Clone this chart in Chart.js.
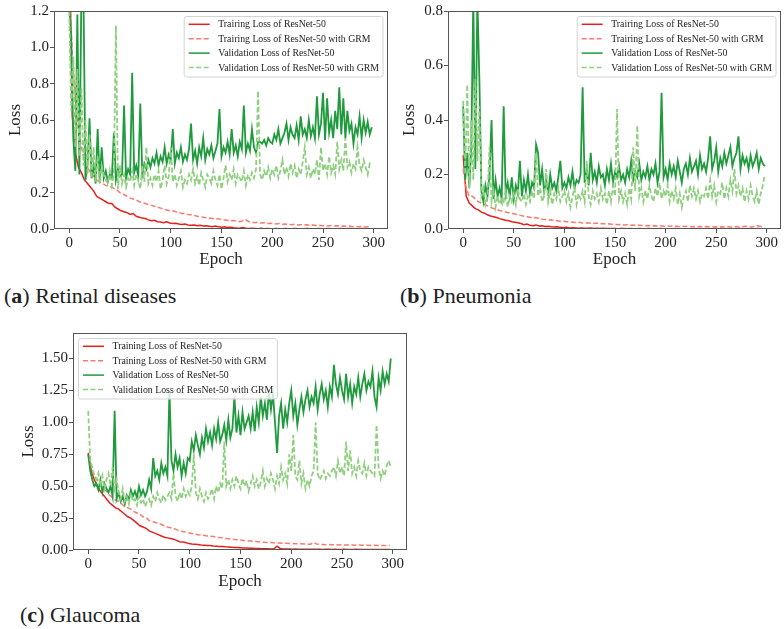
<!DOCTYPE html>
<html><head><meta charset="utf-8">
<script src="https://cdn.jsdelivr.net/npm/chart.js@4.4.1/dist/chart.umd.min.js"></script>
<style>
html,body{margin:0;padding:0;background:#fff;}
#wrap{position:relative;width:784px;height:629px;overflow:hidden;background:#fff;}
canvas{position:absolute;}
.cap{position:absolute;font-family:'Liberation Serif','DejaVu Serif',serif;font-size:22px;line-height:24px;color:#222;white-space:nowrap;}
</style></head><body>
<div id="wrap">
<canvas id="ca" width="392" height="275" style="left:0;top:0;width:392px;height:275px"></canvas>
<canvas id="cb" width="392" height="275" style="left:392px;top:0;width:392px;height:275px"></canvas>
<canvas id="cc" width="420" height="275" style="left:0;top:320px;width:420px;height:275px"></canvas>
<div class="cap" style="left:4px;top:284px">(<b>a</b>) Retinal diseases</div>
<div class="cap" style="left:400px;top:284px">(<b>b</b>) Pneumonia</div>
<div class="cap" style="left:20px;top:603px">(<b>c</b>) Glaucoma</div>
</div>
<script>
const epochsTrain = Array.from({length:100},(_,i)=>i*3);
const epochsVal = Array.from({length:150},(_,i)=>i*2);
const xTicks = [0,50,100,150,200,250,300];
const xTickLabels = ['0','50','100','150','200','250','300'];
const yTicksA = [0,0.2,0.4,0.6,0.8,1.0,1.2];
const yTickLabelsA = ['0.0','0.2','0.4','0.6','0.8','1.0','1.2'];
const yTicksB = [0,0.2,0.4,0.6,0.8];
const yTickLabelsB = ['0.0','0.2','0.4','0.6','0.8'];
const yTicksC = [0,0.25,0.5,0.75,1.0,1.25,1.5];
const yTickLabelsC = ['0.00','0.25','0.50','0.75','1.00','1.25','1.50'];
const seriesLabelsAB = ['Trairing Loss of ResNet-50','Trairing Loss of ResNet-50 with GRM','Validation Loss of ResNet-50','Validation Loss of ResNet-50 with GRM'];
const seriesLabelsC = ['Training Loss of ResNet-50','Training Loss of ResNet-50 with GRM','Validation Loss of ResNet-50','Validation Loss of ResNet-50 with GRM'];

// ---- (a) Retinal diseases ----
const trainA = [1.60,0.62,0.42,0.34,0.31,0.27,0.25,0.23,0.21,0.18,
0.17,0.16,0.15,0.14,0.14,0.12,0.11,0.10,0.095,0.09,
0.08,0.085,0.07,0.065,0.06,0.058,0.05,0.045,0.048,0.04,
0.038,0.035,0.04,0.033,0.03,0.032,0.028,0.025,0.027,0.022,
0.02,0.022,0.018,0.02,0.016,0.018,0.015,0.012,0.016,0.012,
0.01,0.012,0.008,0.01,0.007,0.005,0.004,0.008,0.004,0.003,
0.004,0.003,0.002,0.004,0.002,0.003,0.002,0.002,0.003,0.002,
0.002,0.003,0.002,0.002,0.003,0.002,0.002,0.002,0.003,0.002,
0.002,0.002,0.003,0.002,0.002,0.003,0.002,0.002,0.002,0.003,
0.002,0.002,0.003,0.002,0.002,0.002,0.003,0.002,0.002,0.002];
const trainGrmA = [1.40,0.95,0.72,0.55,0.45,0.38,0.34,0.31,0.29,0.27,
0.26,0.25,0.24,0.235,0.23,0.22,0.21,0.195,0.19,0.18,
0.17,0.165,0.16,0.15,0.145,0.14,0.135,0.13,0.125,0.12,
0.115,0.11,0.105,0.10,0.10,0.095,0.09,0.085,0.085,0.08,
0.078,0.075,0.07,0.068,0.065,0.062,0.06,0.058,0.055,0.057,
0.052,0.05,0.048,0.045,0.047,0.042,0.04,0.045,0.05,0.04,
0.038,0.035,0.037,0.033,0.035,0.03,0.032,0.03,0.028,0.03,
0.026,0.028,0.025,0.024,0.026,0.022,0.024,0.021,0.023,0.02,
0.022,0.019,0.021,0.018,0.02,0.017,0.019,0.016,0.018,0.015,
0.017,0.014,0.016,0.013,0.015,0.012,0.014,0.011,0.013,0.01];
const valA = [1.25,1.05,0.50,0.32,1.18,0.30,1.30,1.30,0.27,0.35,
0.61,0.28,0.35,0.25,0.55,0.27,0.45,0.28,0.32,0.26,
0.30,0.28,0.53,0.27,0.33,0.29,0.30,0.68,0.28,0.33,
0.30,0.86,0.31,0.35,0.29,0.69,0.30,0.36,0.33,0.38,
0.34,0.39,0.36,0.42,0.35,0.40,0.37,0.45,0.36,0.41,
0.38,0.55,0.36,0.42,0.39,0.45,0.37,0.41,0.38,0.44,
0.58,0.38,0.43,0.36,0.45,0.40,0.50,0.38,0.44,0.41,
0.46,0.39,0.43,0.47,0.66,0.40,0.45,0.42,0.48,0.41,
0.55,0.42,0.46,0.40,0.48,0.44,0.68,0.42,0.47,0.43,
0.55,0.45,0.42,0.48,0.48,0.47,0.49,0.46,0.50,0.48,
0.47,0.52,0.49,0.55,0.47,0.50,0.53,0.58,0.49,0.56,
0.52,0.50,0.57,0.49,0.62,0.52,0.55,0.50,0.60,0.51,
0.56,0.50,0.73,0.52,0.58,0.75,0.49,0.72,0.53,0.60,
0.50,0.65,0.55,0.78,0.52,0.72,0.50,0.65,0.54,0.58,
0.47,0.56,0.52,0.62,0.50,0.60,0.53,0.59,0.52,0.56];
const valGrmA = [1.20,0.65,0.95,0.45,0.88,0.40,0.78,0.35,0.60,0.30,
0.52,0.28,0.45,0.26,0.40,0.25,0.35,0.30,0.27,0.25,
0.32,0.24,0.30,1.12,0.22,0.35,0.25,0.30,0.23,0.28,
0.26,0.32,0.24,0.30,0.27,0.22,0.35,0.26,0.45,0.25,
0.28,0.24,0.30,0.26,0.32,0.22,0.27,0.35,0.25,0.29,
0.45,0.26,0.30,0.24,0.28,0.32,0.23,0.27,0.25,0.30,
0.27,0.33,0.25,0.29,0.24,0.31,0.27,0.23,0.30,0.28,
0.25,0.32,0.27,0.24,0.30,0.22,0.28,0.35,0.26,0.30,
0.27,0.33,0.25,0.30,0.28,0.26,0.32,0.24,0.30,0.27,
0.31,0.28,0.33,0.76,0.30,0.27,0.32,0.29,0.34,0.28,
0.33,0.30,0.35,0.28,0.32,0.38,0.30,0.34,0.29,0.36,
0.31,0.35,0.28,0.33,0.30,0.37,0.45,0.30,0.34,0.28,
0.33,0.30,0.38,0.27,0.45,0.32,0.36,0.30,0.40,0.31,
0.35,0.30,0.48,0.33,0.38,0.32,0.50,0.34,0.37,0.31,
0.36,0.33,0.45,0.35,0.32,0.38,0.34,0.30,0.36,0.35];

// ---- (b) Pneumonia ----
const trainB = [0.27,0.12,0.095,0.085,0.075,0.07,0.062,0.058,0.052,0.048,
0.045,0.042,0.038,0.035,0.032,0.03,0.027,0.025,0.023,0.02,
0.016,0.018,0.014,0.012,0.015,0.011,0.012,0.009,0.01,0.008,
0.007,0.008,0.006,0.005,0.006,0.004,0.005,0.004,0.003,0.004,
0.003,0.003,0.004,0.002,0.003,0.002,0.003,0.002,0.002,0.002,
0.002,0.001,0.002,0.002,0.001,0.002,0.001,0.001,0.002,0.001,
0.001,0.002,0.001,0.001,0.001,0.002,0.001,0.001,0.001,0.001,
0.002,0.001,0.001,0.001,0.001,0.001,0.002,0.001,0.001,0.001,
0.001,0.001,0.001,0.002,0.001,0.001,0.001,0.001,0.001,0.001,
0.001,0.002,0.001,0.001,0.001,0.001,0.001,0.002,0.001,0.001];
const trainGrmB = [0.22,0.15,0.12,0.12,0.11,0.10,0.095,0.09,0.085,0.08,
0.075,0.072,0.068,0.065,0.062,0.06,0.057,0.055,0.052,0.05,
0.047,0.045,0.043,0.04,0.042,0.038,0.036,0.035,0.033,0.034,
0.031,0.03,0.028,0.029,0.027,0.026,0.025,0.024,0.025,0.023,
0.022,0.023,0.021,0.02,0.022,0.019,0.02,0.018,0.019,0.017,
0.018,0.016,0.017,0.015,0.016,0.014,0.015,0.013,0.014,0.013,
0.012,0.013,0.011,0.012,0.011,0.012,0.01,0.011,0.01,0.011,
0.01,0.009,0.01,0.009,0.01,0.008,0.009,0.008,0.009,0.008,
0.009,0.008,0.007,0.008,0.007,0.008,0.007,0.008,0.007,0.008,
0.009,0.007,0.008,0.01,0.008,0.007,0.009,0.012,0.009,0.008];
const valB = [0.45,0.18,0.28,0.15,0.30,0.85,0.22,0.85,0.55,0.14,
0.10,0.16,0.12,0.20,0.40,0.11,0.18,0.12,0.15,0.11,
0.45,0.13,0.17,0.12,0.19,0.11,0.16,0.13,0.25,0.12,
0.18,0.14,0.20,0.13,0.17,0.15,0.31,0.28,0.16,0.22,
0.14,0.18,0.13,0.20,0.15,0.17,0.14,0.19,0.25,0.15,
0.17,0.15,0.19,0.16,0.21,0.15,0.18,0.17,0.20,0.52,
0.17,0.22,0.16,0.28,0.18,0.21,0.17,0.23,0.19,0.20,
0.16,0.22,0.18,0.24,0.17,0.21,0.19,0.23,0.18,0.20,
0.17,0.22,0.19,0.25,0.18,0.21,0.19,0.24,0.18,0.21,
0.19,0.23,0.18,0.22,0.20,0.24,0.17,0.21,0.50,0.19,
0.22,0.18,0.24,0.20,0.23,0.19,0.25,0.21,0.17,0.22,
0.24,0.20,0.26,0.21,0.23,0.25,0.20,0.27,0.22,0.24,
0.21,0.26,0.34,0.22,0.25,0.30,0.21,0.26,0.23,0.28,
0.24,0.27,0.30,0.23,0.26,0.28,0.34,0.22,0.27,0.24,
0.26,0.22,0.27,0.23,0.25,0.28,0.22,0.26,0.24,0.23];
const valGrmB = [0.47,0.20,0.53,0.15,0.40,0.18,0.55,0.25,0.45,0.12,
0.15,0.09,0.12,0.30,0.10,0.14,0.08,0.12,0.09,0.11,
0.10,0.14,0.08,0.12,0.10,0.13,0.09,0.15,0.11,0.10,
0.13,0.09,0.12,0.10,0.14,0.11,0.28,0.12,0.15,0.10,
0.12,0.22,0.10,0.14,0.09,0.13,0.11,0.15,0.10,0.12,
0.14,0.10,0.13,0.08,0.12,0.15,0.09,0.13,0.11,0.14,
0.10,0.25,0.12,0.09,0.14,0.11,0.13,0.10,0.15,0.11,
0.13,0.09,0.14,0.10,0.16,0.12,0.44,0.11,0.14,0.10,
0.13,0.09,0.15,0.11,0.30,0.14,0.38,0.12,0.15,0.10,
0.14,0.11,0.16,0.12,0.10,0.15,0.12,0.17,0.11,0.14,
0.12,0.16,0.10,0.14,0.11,0.15,0.09,0.13,0.08,0.12,
0.14,0.10,0.16,0.12,0.15,0.11,0.14,0.10,0.13,0.12,
0.15,0.11,0.18,0.12,0.16,0.10,0.14,0.13,0.17,0.11,
0.15,0.12,0.18,0.14,0.22,0.13,0.16,0.12,0.15,0.10,
0.14,0.11,0.16,0.12,0.10,0.14,0.09,0.13,0.16,0.20];

// ---- (c) Glaucoma ----
const trainC = [0.76,0.62,0.55,0.50,0.46,0.43,0.40,0.37,0.35,0.33,
0.32,0.30,0.28,0.26,0.25,0.23,0.21,0.19,0.18,0.17,
0.15,0.14,0.13,0.12,0.11,0.10,0.095,0.09,0.085,0.075,
0.065,0.062,0.058,0.05,0.047,0.045,0.043,0.04,0.038,0.035,
0.035,0.032,0.03,0.028,0.027,0.025,0.024,0.022,0.02,0.019,
0.018,0.016,0.015,0.014,0.013,0.012,0.011,0.01,0.009,0.009,
0.008,0.01,0.03,0.012,0.008,0.007,0.007,0.006,0.007,0.006,
0.006,0.005,0.006,0.005,0.005,0.006,0.005,0.004,0.005,0.005,
0.004,0.005,0.004,0.004,0.005,0.004,0.004,0.004,0.005,0.004,
0.004,0.003,0.004,0.004,0.003,0.004,0.003,0.004,0.003,0.004];
const trainGrmC = [0.74,0.64,0.58,0.55,0.51,0.48,0.46,0.43,0.41,0.39,
0.38,0.36,0.34,0.33,0.32,0.30,0.29,0.28,0.26,0.255,
0.23,0.225,0.215,0.21,0.20,0.19,0.18,0.175,0.17,0.16,
0.15,0.145,0.14,0.135,0.13,0.125,0.12,0.118,0.115,0.11,
0.108,0.105,0.10,0.098,0.095,0.09,0.088,0.085,0.082,0.08,
0.078,0.075,0.072,0.07,0.068,0.066,0.064,0.062,0.06,0.059,
0.058,0.056,0.055,0.054,0.052,0.053,0.05,0.051,0.049,0.05,
0.048,0.047,0.046,0.045,0.06,0.046,0.044,0.043,0.042,0.043,
0.041,0.042,0.04,0.041,0.039,0.04,0.038,0.04,0.037,0.039,
0.037,0.036,0.038,0.035,0.037,0.036,0.035,0.036,0.034,0.035];
const valC = [0.75,0.62,0.55,0.50,0.52,0.47,0.55,0.45,0.52,0.48,
0.45,0.50,0.42,1.09,0.40,0.45,0.38,0.42,0.36,0.43,
0.40,0.47,0.42,0.46,0.41,0.50,0.43,0.47,0.42,0.46,
0.55,0.48,0.72,0.58,0.62,0.55,0.68,0.60,0.65,0.58,
1.25,0.70,0.62,0.75,0.65,0.72,0.58,0.68,0.60,0.72,
0.70,0.85,0.78,0.90,0.82,0.75,0.88,0.80,0.95,0.85,
0.92,0.82,0.95,0.87,1.00,0.85,0.90,0.98,0.86,1.02,
0.88,0.95,1.20,0.92,1.05,0.90,1.08,0.95,1.00,1.05,
0.95,1.08,0.93,1.12,1.00,1.20,1.05,1.15,1.02,1.25,
1.10,1.22,1.00,0.76,1.05,1.15,0.95,1.10,1.00,1.15,
1.25,1.05,1.15,0.98,1.10,1.20,1.08,1.18,1.25,1.12,
1.20,1.15,1.28,1.10,1.22,1.30,1.18,1.25,1.12,1.28,
1.20,1.45,1.30,1.22,1.35,1.25,1.18,1.38,1.20,1.30,
1.15,1.28,1.22,1.35,1.20,1.30,1.38,1.25,1.32,1.28,
1.40,1.20,1.12,1.35,1.25,1.40,1.30,1.38,1.32,1.50];
const valGrmC = [1.09,0.70,0.65,0.58,0.55,0.60,0.50,0.58,0.48,0.55,
0.60,0.50,0.65,0.48,0.55,0.45,0.40,0.48,0.38,0.42,
0.36,0.45,0.38,0.40,0.35,0.42,0.37,0.40,0.34,0.38,
0.40,0.35,0.42,0.38,0.45,0.40,0.37,0.43,0.39,0.42,
0.45,0.40,0.60,0.42,0.38,0.45,0.40,0.48,0.42,0.46,
0.43,0.50,0.75,0.45,0.40,0.48,0.42,0.38,0.45,0.40,
0.43,0.48,0.40,0.50,0.45,0.52,0.48,0.85,0.50,0.55,
0.48,0.55,0.50,0.58,0.52,0.48,0.56,0.50,0.54,0.46,
0.52,0.58,0.50,0.55,0.48,0.53,0.62,0.50,0.56,0.52,
0.60,0.55,0.48,0.58,0.52,0.65,0.55,0.60,0.52,0.75,
0.62,0.90,0.58,0.55,0.70,0.52,0.60,0.48,0.55,0.50,
0.58,0.62,1.00,0.60,0.55,0.58,0.62,0.56,0.60,0.58,
0.62,0.65,0.58,0.70,0.60,0.65,0.58,0.85,0.62,0.78,
0.60,0.65,0.58,0.70,0.62,0.60,0.68,0.58,0.65,0.62,
0.60,0.58,0.98,0.65,0.56,0.62,0.58,0.66,0.70,0.65];

const FONT = "'Liberation Serif','DejaVu Serif',serif";
Chart.defaults.font.family = FONT;
Chart.defaults.color = '#222';

const COLORS = {train:'#e3201c', trainGrm:'#fa7a6e', val:'#1f9a3c', valGrm:'#8fd07f'};

const framePlugin = {
  id:'frame',
  afterDraw(chart){
    const {ctx, chartArea:a} = chart;
    ctx.save();
    ctx.strokeStyle = '#555';
    ctx.lineWidth = 1;
    ctx.strokeRect(Math.round(a.left)+0.5, Math.round(a.top)+0.5, Math.round(a.right)-Math.round(a.left)-1, Math.round(a.bottom)-Math.round(a.top)-1);
    ctx.restore();
  }
};

const legendPlugin = {
  id:'inLegend',
  afterDatasetsDraw(chart, args, opts){
    const ctx = chart.ctx, a = chart.chartArea;
    const ds = chart.data.datasets;
    ctx.save();
    ctx.font = '9.8px ' + FONT;
    let tw = 0;
    ds.forEach(d => { tw = Math.max(tw, ctx.measureText(d.label).width); });
    const w = 34 + tw + 4, h = 60.5;
    const x = opts.align === 'left' ? a.left + 5.5 : a.right - 5 - w;
    const y = a.top + 5.5;
    ctx.beginPath();
    if (ctx.roundRect) ctx.roundRect(x, y, w, h, 2.5); else ctx.rect(x, y, w, h);
    ctx.fillStyle = 'rgba(255,255,255,0.8)';
    ctx.fill();
    ctx.strokeStyle = '#d3d3d3';
    ctx.lineWidth = 1;
    ctx.stroke();
    ds.forEach((d, i) => {
      const cy = y + 7.8 + i * 14.4;
      ctx.beginPath();
      ctx.setLineDash(d.borderDash || []);
      ctx.strokeStyle = d.borderColor;
      ctx.lineWidth = 1.5;
      ctx.moveTo(x + 4.5, cy);
      ctx.lineTo(x + 25.5, cy);
      ctx.stroke();
      ctx.setLineDash([]);
      ctx.fillStyle = '#222';
      ctx.textBaseline = 'middle';
      ctx.textAlign = 'left';
      ctx.fillText(d.label, x + 34, cy + 0.5);
    });
    ctx.restore();
  }
};

function pts(xs, ys){ return ys.map((v,i)=>({x:xs[i], y:v})); }

function makeChart(id, c){
  const ds = [
    {label:c.labels[0], data:pts(epochsTrain, c.train), borderColor:COLORS.train, borderDash:[], borderWidth:1.5, order:3},
    {label:c.labels[1], data:pts(epochsTrain, c.trainGrm), borderColor:COLORS.trainGrm, borderDash:[5,2.5], borderWidth:1.5, order:2},
    {label:c.labels[2], data:pts(epochsVal, c.val), borderColor:COLORS.val, borderDash:[], borderWidth:1.8, order:1},
    {label:c.labels[3], data:pts(epochsVal, c.valGrm), borderColor:COLORS.valGrm, borderDash:[5,2.5], borderWidth:1.8, order:0}
  ].map(d => Object.assign(d, {pointRadius:0, tension:0, fill:false}));
  return new Chart(document.getElementById(id), {
    type:'line',
    data:{datasets:ds},
    plugins:[legendPlugin, framePlugin],
    options:{
      responsive:false, animation:false, devicePixelRatio:1,
      layout:{padding:{left:0, top:c.padTop, right:c.padRight, bottom:0}},
      plugins:{legend:{display:false}, tooltip:{enabled:false}, inLegend:{align:c.legendAlign}},
      scales:{
        x:{type:'linear', min:-15, max:314,
          afterBuildTicks:s=>{ s.ticks = xTicks.map(v=>({value:v})); },
          afterFit:s=>{ s.height = c.xAxisHeight; },
          grid:{display:true, drawOnChartArea:false, drawTicks:true, tickLength:4, color:'#555'},
          border:{display:false},
          ticks:{font:{size:15}, padding:1, maxRotation:0, autoSkip:false, color:'#222', callback:(v,i)=>xTickLabels[i]},
          title:{display:true, text:'Epoch', font:{size:17}, color:'#222', padding:{top:0, bottom:c.xTitlePad}}
        },
        y:{type:'linear', min:0, max:c.ymax,
          afterBuildTicks:s=>{ s.ticks = c.yTicks.map(v=>({value:v})); },
          afterFit:s=>{ s.width = c.yAxisWidth; },
          grid:{display:true, drawOnChartArea:false, drawTicks:true, tickLength:4, color:'#555'},
          border:{display:false},
          ticks:{font:{size:15}, padding:1, autoSkip:false, color:'#222', callback:(v,i)=>c.yLabels[i]},
          title:{display:true, text:'Loss', font:{size:17}, color:'#222', padding:{top:c.yTitlePad, bottom:0}}
        }
      }
    }
  });
}

makeChart('ca', {train:trainA, trainGrm:trainGrmA, val:valA, valGrm:valGrmA, labels:seriesLabelsAB,
  yTicks:yTicksA, yLabels:yTickLabelsA, ymax:1.2, yAxisWidth:54, xAxisHeight:46, padTop:11, padRight:4,
  yTitlePad:5, xTitlePad:5, legendAlign:'right'});
makeChart('cb', {train:trainB, trainGrm:trainGrmB, val:valB, valGrm:valGrmB, labels:seriesLabelsAB,
  yTicks:yTicksB, yLabels:yTickLabelsB, ymax:0.8, yAxisWidth:56, xAxisHeight:46, padTop:11, padRight:3,
  yTitlePad:7, xTitlePad:5, legendAlign:'right'});
makeChart('cc', {train:trainC, trainGrm:trainGrmC, val:valC, valGrm:valGrmC, labels:seriesLabelsC,
  yTicks:yTicksC, yLabels:yTickLabelsC, ymax:1.70, yAxisWidth:73, xAxisHeight:45, padTop:13, padRight:13,
  yTitlePad:18, xTitlePad:3, legendAlign:'left'});
</script>
</body></html>
